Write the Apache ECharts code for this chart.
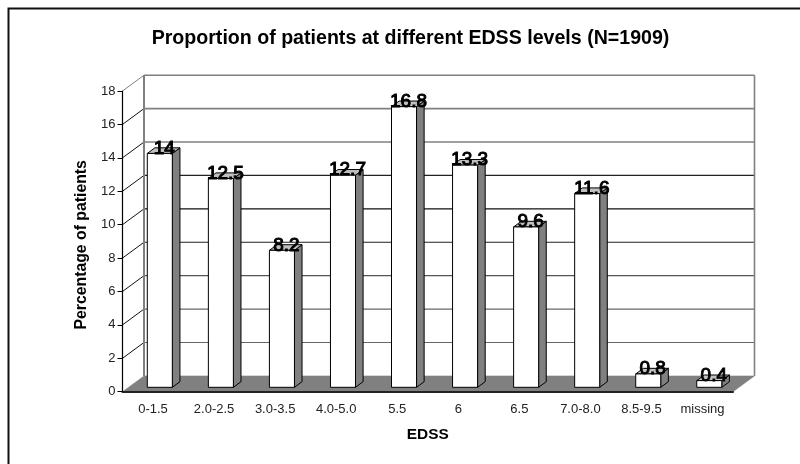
<!DOCTYPE html>
<html><head><meta charset="utf-8">
<style>html,body{margin:0;padding:0;background:#fff}#c{width:800px;height:464px}</style>
<script src="https://cdn.jsdelivr.net/npm/echarts@6/dist/echarts.min.js"></script>
</head><body><div id="c"></div>
<script>
const categories = ['0-1.5','2.0-2.5','3.0-3.5','4.0-5.0','5.5','6','6.5','7.0-8.0','8.5-9.5','missing'];
const values = [14,12.5,8.2,12.7,16.8,13.3,9.6,11.6,0.8,0.4];
const yTicks = [0,2,4,6,8,10,12,14,16,18];
const lineColors = {18:'#808080',16:'#808080',14:'#808080',12:'#222',10:'#111',8:'#222',6:'#555',4:'#666',2:'#666'};
const FONT = '"Liberation Sans", Arial, sans-serif';
const WALL = [21.5,-15.8];     // oblique depth of the back wall
const BAR_NEAR = [6.8,-4.4];   // front face of a column inside the depth
const BAR_FAR = [14.4,-10];    // rear face of a column inside the depth

const chart = echarts.init(document.getElementById('c'), null, {renderer:'canvas'});
const add = (p,d) => [p[0]+d[0], p[1]+d[1]];

function renderFloor(params, api){
  const a = api.coord([0,0]), w = api.size([1,0])[0]*categories.length;
  const l = [a[0]-api.size([1,0])[0]/2, a[1]], r = [l[0]+w, a[1]];
  return {type:'polygon', shape:{points:[l,r,add(r,WALL),add(l,WALL)]}, style:{fill:'#808080',stroke:'#808080',lineWidth:0.5}};
}
function renderWall(params, api){
  const v = api.value(1), step = api.size([1,0])[0];
  const p0 = api.coord([0,v]);
  const l = [p0[0]-step/2, p0[1]], r = [l[0]+step*categories.length, p0[1]];
  const bl = add(l,WALL), br = add(r,WALL);
  const col = lineColors[v];
  const kids = [];
  if (v>0) {
    kids.push({type:'line',shape:{x1:bl[0],y1:bl[1],x2:br[0],y2:br[1]},style:{stroke:col,lineWidth:v>=14?1.6:1.2}});
    kids.push({type:'line',shape:{x1:l[0],y1:l[1],x2:bl[0],y2:bl[1]},style:{stroke:v===18?'#808080':'#111',lineWidth:1}});
  }
  if (v===18) {
    const lb = add([l[0], api.coord([0,0])[1]],WALL), rb = add([r[0], api.coord([0,0])[1]],WALL);
    kids.push({type:'line',shape:{x1:bl[0],y1:bl[1],x2:lb[0],y2:lb[1]},style:{stroke:'#808080',lineWidth:2}});
    kids.push({type:'line',shape:{x1:br[0],y1:br[1],x2:rb[0],y2:rb[1]},style:{stroke:'#808080',lineWidth:1.6}});
  }
  return {type:'group',children:kids};
}
function renderBar(params, api){
  const i = api.value(0), v = api.value(1);
  const hw = api.size([1,0])[0]*0.205;
  const b = api.coord([i,0]), t = api.coord([i,v]);
  const fbl = add([b[0]-hw,b[1]],BAR_NEAR), fbr = add([b[0]+hw,b[1]],BAR_NEAR);
  const ftl = add([t[0]-hw,t[1]],BAR_NEAR), ftr = add([t[0]+hw,t[1]],BAR_NEAR);
  const d = [BAR_FAR[0]-BAR_NEAR[0], BAR_FAR[1]-BAR_NEAR[1]];
  const line = {stroke:'#000',lineWidth:1,lineJoin:'round'};
  return {type:'group',children:[
    {type:'polygon',shape:{points:[fbr,ftr,add(ftr,d),add(fbr,d)]},style:{fill:'#808080',...line}},
    {type:'polygon',shape:{points:[ftl,ftr,add(ftr,d),add(ftl,d)]},style:{fill:'#c0c0c0',...line}},
    {type:'polygon',shape:{points:[fbl,fbr,ftr,ftl]},style:{fill:'#fff',...line}},
    {type:'text',style:{text:String(v),x:(ftl[0]+ftr[0])/2+4.5,y:ftl[1]-5,align:'center',verticalAlign:'middle',
      font:'19px '+FONT,fill:'#000',stroke:'#000',lineWidth:1}}
  ]};
}

chart.setOption({
  animation:false,
  backgroundColor:'#fff',
  title:{text:'Proportion of patients at different EDSS levels (N=1909)',left:405.5,top:24,textAlign:'center',
    textStyle:{fontFamily:FONT,fontSize:19.6,fontWeight:'bold',color:'#000'}},
  graphic:[{type:'rect',shape:{x:8.5,y:8.5,width:900,height:600},style:{fill:null,stroke:'#111',lineWidth:2},silent:true,z:-1}],
  grid:{left:122.5,right:67,top:91,bottom:72.3,containLabel:false},
  xAxis:{type:'category',data:categories,z:10,boundaryGap:true,
    name:'EDSS',nameLocation:'middle',nameGap:36,
    nameTextStyle:{fontFamily:FONT,fontSize:15.4,fontWeight:'bold',color:'#000'},
    axisLine:{lineStyle:{color:'#222',width:2}},
    axisTick:{length:5,lineStyle:{color:'#000',width:1}},
    axisLabel:{fontFamily:FONT,fontSize:13,color:'#222',margin:11,interval:0}},
  yAxis:{type:'value',min:0,max:18,interval:2,z:10,
    name:'Percentage of patients',nameLocation:'middle',nameGap:33,nameRotate:90,
    nameTextStyle:{fontFamily:FONT,fontSize:15.8,fontWeight:'bold',color:'#000',padding:[0,7,0,0]},
    axisLine:{show:true,lineStyle:{color:'#000',width:1.2}},
    axisTick:{show:true,length:5,lineStyle:{color:'#000',width:1}},
    axisLabel:{fontFamily:FONT,fontSize:13,color:'#222',margin:7},
    splitLine:{show:false}},
  series:[
    {type:'custom',z:1,silent:true,coordinateSystem:'cartesian2d',data:[[0,0]],renderItem:renderFloor,clip:false},
    {type:'custom',z:2,silent:true,coordinateSystem:'cartesian2d',data:yTicks.map(t=>[0,t]),renderItem:renderWall,clip:false},
    {type:'custom',z:3,silent:true,coordinateSystem:'cartesian2d',data:values.map((v,i)=>[i,v]),renderItem:renderBar,clip:false}
  ]
});
</script></body></html>
